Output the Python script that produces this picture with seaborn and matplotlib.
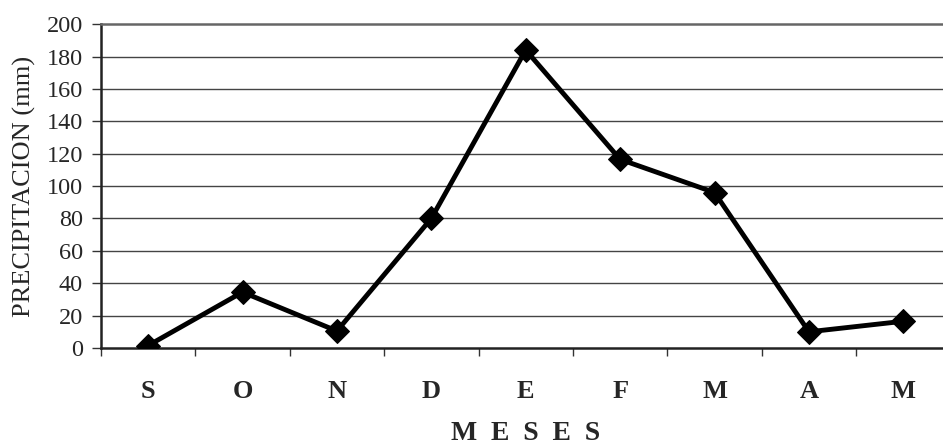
import matplotlib
matplotlib.use("Agg")
import matplotlib.pyplot as plt
from matplotlib.ticker import FixedLocator
import numpy as np
import pandas as pd
import seaborn as sns

meses = ["S", "O", "N", "D", "E", "F", "M", "A", "M"]
precipitacion = [1.5, 34.5, 10.5, 80, 184, 116.5, 96, 10, 16.5]
y_ticks = [0, 20, 40, 60, 80, 100, 120, 140, 160, 180, 200]

sns.set_theme(style="white")
plt.rcParams["font.family"] = ["Liberation Serif", "DejaVu Serif"]

df = pd.DataFrame({"pos": np.arange(len(meses)), "valor": precipitacion})

fig = plt.figure(figsize=(9.43, 4.47), dpi=100)
ax = fig.add_axes([0.107, 0.2215, 0.901, 0.7245])

for y in y_ticks[1:-1]:
    ax.axhline(y, color="#444444", lw=1.0, zorder=1)

sns.lineplot(data=df, x="pos", y="valor", sort=False, color="black",
             lw=3.5, marker="D", markersize=12, markeredgecolor="black",
             ax=ax, zorder=3)

ax.set_xlim(-0.5, len(meses) - 0.5)
ax.set_ylim(0, 200)
ax.set_yticks(y_ticks)
ax.set_yticklabels([str(v) for v in y_ticks], fontsize=17.5)

ax.set_xticks(df["pos"])
ax.set_xticklabels(meses, fontsize=19, fontweight="bold")
ax.xaxis.set_minor_locator(FixedLocator(np.arange(-0.5, len(meses), 1.0)))
ax.tick_params(axis="x", which="major", length=0, pad=23)
ax.tick_params(axis="x", which="minor", length=6, width=1, color="#333333",
               direction="out", bottom=True)
ax.tick_params(axis="y", which="major", length=6.5, width=1, color="#333333",
               direction="out", left=True, pad=6.5)

ax.set_ylabel("PRECIPITACION (mm)", fontsize=19)
ax.yaxis.set_label_coords(-0.076, 0.5)
ax.set_xlabel("M\u2002E\u2002S\u2002E\u2002S", fontsize=20, fontweight="bold",
              va="baseline")
ax.xaxis.set_label_coords(0.5, -0.285)

for side in ["left", "bottom"]:
    ax.spines[side].set_color("#222222")
    ax.spines[side].set_linewidth(1.8)
ax.spines["top"].set_color("#666666")
ax.spines["top"].set_linewidth(1.8)
ax.spines["top"].set_linestyle((0, (1, 1)))
ax.spines["right"].set_visible(False)

fig.savefig("out.png", dpi=100, facecolor="white")
